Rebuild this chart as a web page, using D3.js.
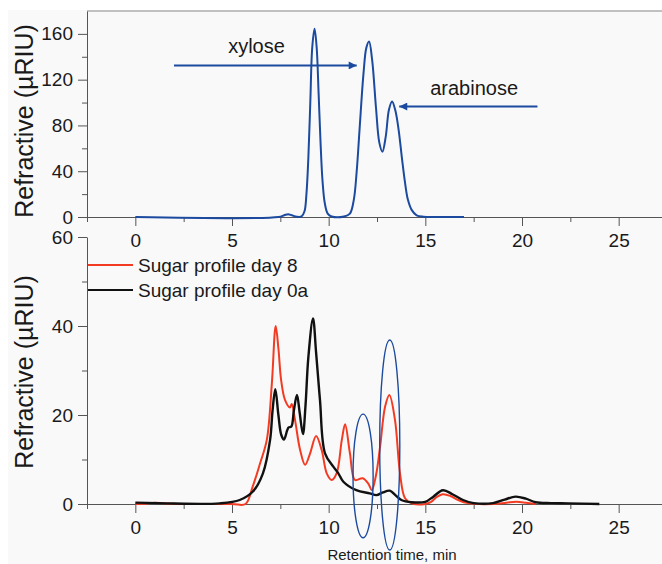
<!DOCTYPE html>
<html>
<head>
<meta charset="utf-8">
<script src="https://cdn.jsdelivr.net/npm/d3@7"></script>
<style>
  html, body { margin: 0; padding: 0; background: #fff; }
  svg { display: block; font-family: Arial, "Liberation Sans", sans-serif; }
</style>
</head>
<body>
<div id="chart"></div>
<script>
// Chromatogram values: [retention time (min), signal (µRIU)]
const standardSeries = [
  [0, 0], [7.4, 0], [7.7, 1.5], [7.9, 2.5], [8.1, 1.5], [8.35, 0.2], [8.6, 0.5],
  [8.75, 5], [8.85, 20], [8.95, 52], [9.05, 100], [9.15, 148], [9.27, 164.5],
  [9.38, 148], [9.48, 108], [9.58, 65], [9.68, 32], [9.8, 12], [9.95, 3],
  [10.15, 0.5], [10.8, 0.5], [11.1, 3], [11.3, 15], [11.45, 40], [11.6, 77],
  [11.8, 125], [11.95, 148], [12.09, 153.4], [12.25, 137], [12.45, 95],
  [12.62, 65], [12.78, 57], [12.95, 70], [13.12, 94], [13.28, 101], [13.45, 93],
  [13.62, 76], [13.8, 50], [13.95, 30], [14.1, 15], [14.3, 6], [14.55, 1.5],
  [14.9, 0.3], [15.5, 0], [17, 0]
];

const day8Series = [
  [0, 0], [0.6, 0.1], [1.0, 0.3], [1.5, 0.15], [2.2, 0], [5.0, 0], [5.7, 0],
  [6.07, 3.9], [6.45, 9.1], [6.8, 14.4], [7.06, 27], [7.26, 40], [7.4, 35],
  [7.54, 27.9], [7.74, 23.4], [8.0, 21.7], [8.09, 22.5], [8.26, 18.9],
  [8.52, 12.2], [8.78, 8.8], [9.04, 11.4], [9.35, 15.3], [9.64, 12.1],
  [9.9, 6.9], [10.16, 5.4], [10.42, 7], [10.68, 14.4], [10.85, 17.9],
  [11.1, 11.4], [11.36, 5.4], [11.76, 5.8], [12.05, 4.6], [12.23, 3.1],
  [12.45, 6.5], [12.66, 12.9], [12.92, 21.9], [13.14, 24.5], [13.43, 18.9],
  [13.69, 6.9], [13.95, 1.3], [14.3, 0.15], [15.0, 0], [15.3, 0.5],
  [15.6, 1.6], [15.9, 2.2], [16.3, 1.8], [16.7, 0.9], [17.2, 0.2], [18.5, 0],
  [19.2, 0.3], [19.7, 0.5], [20.2, 0.3], [20.7, 0]
];

const day0aSeries = [
  [0, 0.3], [2, 0.1], [4.36, 0.15], [5.4, 0.9], [6.08, 2.8], [6.6, 6.9],
  [6.97, 14.4], [7.1, 21.1], [7.24, 25.8], [7.4, 20], [7.55, 15.5], [7.69, 14.5],
  [7.85, 16.5], [7.93, 17.2], [8.07, 17.4], [8.2, 21], [8.36, 24.5], [8.5, 20.5],
  [8.67, 15.7], [8.8, 22], [8.95, 33], [9.19, 41.7], [9.35, 34], [9.55, 23.4],
  [9.81, 11.4], [10.24, 8.4], [10.5, 6.9], [10.76, 5], [11.43, 3.1],
  [12.12, 2.4], [12.47, 2], [12.8, 2.6], [13.16, 3.0], [13.45, 2.0],
  [13.76, 0.9], [14.3, 0.4], [15.0, 0.5], [15.4, 1.6], [15.91, 3.1],
  [16.4, 2.2], [16.95, 0.9], [17.5, 0.2], [18.5, 0.2], [19.1, 1.0],
  [19.67, 1.65], [20.2, 1.2], [20.7, 0.4], [21.5, 0.2], [22.4, 0.15], [24, 0]
];

const seriesNames = ["Sugar profile day 8", "Sugar profile day 0a"];

// tick values
const xMajorTicks = [0, 5, 10, 15, 20, 25];
const xMinorTicks = [-2.5, 2.5, 7.5, 12.5, 17.5, 22.5, 27.5];
const topYMajor = [0, 40, 80, 120, 160];
const topYMinor = [20, 60, 100, 140];
const bottomYMajor = [0, 20, 40, 60];
const bottomYMinor = [10, 30, 50];

// annotations in data coordinates: label, label position, arrow start -> end
const peakLabels = [
  { text: "xylose", at: [4.8, 143], from: [2.0, 132.4], to: [11.45, 132.4] },
  { text: "arabinose", at: [15.25, 106.6], from: [20.8, 96.5], to: [13.65, 96.5] }
];

// ellipses around the missing peaks in the bottom chart: centre, radii (min, µRIU)
const ellipses = [
  { cx: 11.78, cy: 6.3, rx: 0.52, ry: 13.9 },
  { cx: 13.16, cy: 13.26, rx: 0.52, ry: 23.6 }
];

const width = 662;
const height = 564;
const blue = "#1b4a9f";
const red = "#f23b22";
const axisColor = "#555";

const svg = d3.select("#chart").append("svg")
  .attr("width", width)
  .attr("height", height);

// light grey figure background
svg.append("rect")
  .attr("x", 8).attr("y", 10)
  .attr("width", width).attr("height", height)
  .attr("fill", "#f9f9f9");

const x = d3.scaleLinear().domain([-2.5, 27.5]).range([87, 667]);
const yTop = d3.scaleLinear().domain([0, 180]).range([217, 11]);
const yBot = d3.scaleLinear().domain([0, 60]).range([504, 237]);

svg.append("defs").append("marker")
  .attr("id", "arrowHead")
  .attr("viewBox", "0 0 10 10")
  .attr("refX", 10).attr("refY", 5)
  .attr("markerWidth", 6).attr("markerHeight", 4)
  .attr("markerUnits", "strokeWidth")
  .attr("orient", "auto")
  .append("path")
  .attr("d", "M0,0 L10,5 L0,10 Z")
  .attr("fill", blue);

function styleAxis(g) {
  g.selectAll("path, line").attr("stroke", axisColor).attr("stroke-width", 1);
  g.selectAll("text").attr("fill", "#1a1a1a").attr("font-size", 19)
    .attr("font-family", "Arial, 'Liberation Sans', sans-serif");
}

function drawXAxis(yPos) {
  const major = svg.append("g").attr("transform", `translate(0,${yPos})`)
    .call(d3.axisBottom(x).tickValues(xMajorTicks).tickFormat(d3.format("d"))
      .tickSize(9).tickSizeOuter(0).tickPadding(8));
  major.select(".domain").remove();
  styleAxis(major);
  const minor = svg.append("g").attr("transform", `translate(0,${yPos})`)
    .call(d3.axisBottom(x).tickValues(xMinorTicks).tickFormat("")
      .tickSize(5).tickSizeOuter(0));
  styleAxis(minor);
}

function drawYAxis(scale, majors, minors) {
  const major = svg.append("g").attr("transform", "translate(87,0)")
    .call(d3.axisLeft(scale).tickValues(majors).tickFormat(d3.format("d"))
      .tickSize(9).tickSizeOuter(0).tickPadding(5));
  styleAxis(major);
  const minor = svg.append("g").attr("transform", "translate(87,0)")
    .call(d3.axisLeft(scale).tickValues(minors).tickFormat("")
      .tickSize(5).tickSizeOuter(0));
  minor.select(".domain").remove();
  styleAxis(minor);
}

function yLabel(cy) {
  svg.append("text")
    .attr("transform", `translate(33,${cy}) rotate(-90)`)
    .attr("text-anchor", "middle")
    .attr("font-size", 25)
    .attr("fill", "#1a1a1a")
    .text("Refractive (µRIU)");
}

// ---- top panel: standard ----
svg.append("line")
  .attr("x1", 87).attr("x2", width)
  .attr("y1", yTop(180)).attr("y2", yTop(180))
  .attr("stroke", "#888").attr("stroke-width", 1);
drawYAxis(yTop, topYMajor, topYMinor);
drawXAxis(yTop(0));
yLabel(121);

const lineTop = d3.line()
  .x(d => x(d[0])).y(d => yTop(d[1]))
  .curve(d3.curveCatmullRom.alpha(0.5));

svg.append("path")
  .datum(standardSeries)
  .attr("d", lineTop)
  .attr("fill", "none")
  .attr("stroke", blue)
  .attr("stroke-width", 2);

peakLabels.forEach(p => {
  svg.append("line")
    .attr("x1", x(p.from[0])).attr("y1", yTop(p.from[1]))
    .attr("x2", x(p.to[0])).attr("y2", yTop(p.to[1]))
    .attr("stroke", blue).attr("stroke-width", 2)
    .attr("marker-end", "url(#arrowHead)");
  svg.append("text")
    .attr("x", x(p.at[0])).attr("y", yTop(p.at[1]))
    .attr("font-size", 20)
    .attr("fill", "#1a1a1a")
    .text(p.text);
});

// ---- bottom panel: samples ----
drawYAxis(yBot, bottomYMajor, bottomYMinor);
drawXAxis(yBot(0));
yLabel(372);

const lineBot = d3.line()
  .x(d => x(d[0])).y(d => yBot(d[1]))
  .curve(d3.curveCatmullRom.alpha(0.5));

svg.append("path")
  .datum(day8Series)
  .attr("d", lineBot)
  .attr("fill", "none")
  .attr("stroke", red)
  .attr("stroke-width", 2);

svg.append("path")
  .datum(day0aSeries)
  .attr("d", lineBot)
  .attr("fill", "none")
  .attr("stroke", "#111")
  .attr("stroke-width", 2.4);

ellipses.forEach(e => {
  svg.append("ellipse")
    .attr("cx", x(e.cx)).attr("cy", yBot(e.cy))
    .attr("rx", x(e.cx + e.rx) - x(e.cx))
    .attr("ry", yBot(0) - yBot(e.ry))
    .attr("fill", "none")
    .attr("stroke", blue)
    .attr("stroke-width", 1.4);
});

// legend
const legend = svg.append("g");
[red, "#111"].forEach((c, i) => {
  legend.append("line")
    .attr("x1", 88).attr("x2", 133)
    .attr("y1", 265 + i * 25).attr("y2", 265 + i * 25)
    .attr("stroke", c).attr("stroke-width", 2);
  legend.append("text")
    .attr("x", 138).attr("y", 272 + i * 25)
    .attr("font-size", 19)
    .attr("fill", "#1a1a1a")
    .text(seriesNames[i]);
});

svg.append("text")
  .attr("x", 392).attr("y", 560)
  .attr("text-anchor", "middle")
  .attr("font-size", 15)
  .attr("fill", "#1a1a1a")
  .text("Retention time, min");
</script>
</body>
</html>
